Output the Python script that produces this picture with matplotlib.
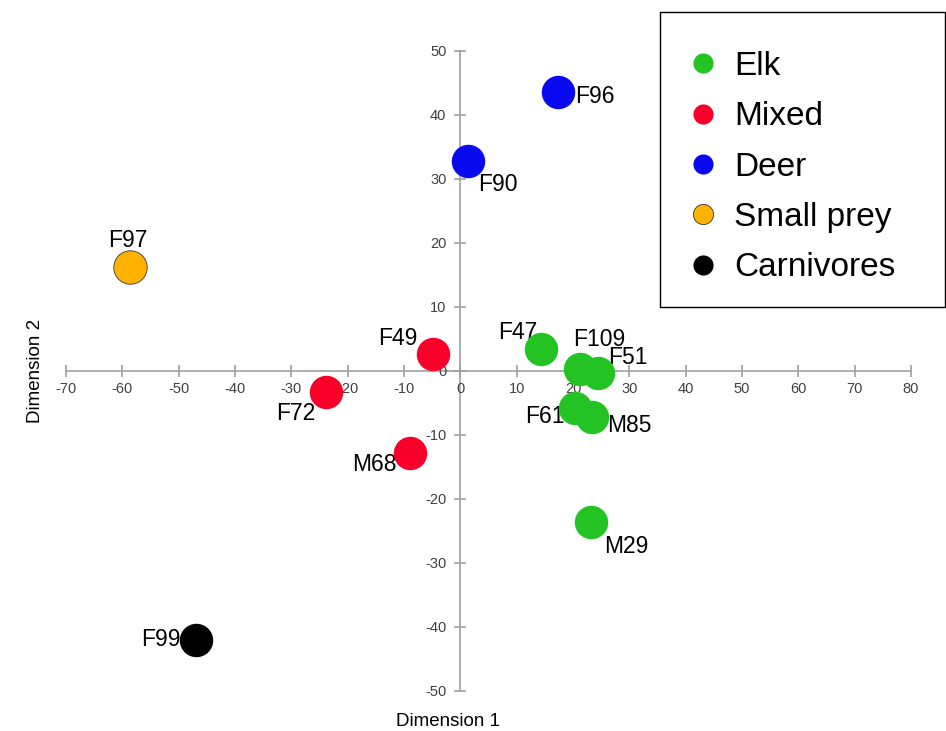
import matplotlib
matplotlib.use("Agg")
import matplotlib.pyplot as plt
from matplotlib.lines import Line2D
from matplotlib.patches import Rectangle

plt.rcParams['font.family'] = ['Liberation Sans', 'DejaVu Sans']
plt.rcParams['axes.unicode_minus'] = False

# Data
labels = ["F96", "F90", "F97", "F49", "F72", "M68", "F47", "F109", "F51", "F61", "M85", "M29", "F99"]
dim1 = [17.3, 1.4, -58.7, -4.8, -23.9, -8.9, 14.3, 21.2, 24.5, 20.4, 23.4, 23.2, -46.9]
dim2 = [43.6, 32.8, 16.3, 2.7, -3.3, -12.8, 3.4, 0.3, -0.3, -5.8, -7.2, -23.6, -42.0]
groups = ["Deer", "Deer", "Small prey", "Mixed", "Mixed", "Mixed", "Elk", "Elk", "Elk", "Elk", "Elk", "Elk", "Carnivores"]
group_order = ["Elk", "Mixed", "Deer", "Small prey", "Carnivores"]
group_colors = {"Elk": "#22C322", "Mixed": "#F8002A", "Deer": "#0A0AF0",
                "Small prey": "#FFB300", "Carnivores": "#000000"}
# label offsets in pixels (dx, dy) and alignment
label_offsets = {"F96": (17, -5, "left"), "F90": (10, -23, "left"), "F97": (-2, 26, "center"),
                 "F49": (-16, 15, "right"), "F72": (-10, -21, "right"), "M68": (-14, -12, "right"),
                 "F47": (-4, 17, "right"), "F109": (-7, 30, "left"), "F51": (10, 15, "left"),
                 "F61": (-11, -8, "right"), "M85": (15, -8, "left"), "M29": (13, -24, "left"),
                 "F99": (-16, 0, "right")}

W, H = 946, 731
fig = plt.figure(figsize=(W / 100, H / 100), dpi=100)
ax = fig.add_axes([66 / W, 1 - 691 / H, (911 - 66) / W, (691 - 51) / H])

for d1, d2, g, lab in zip(dim1, dim2, groups, labels):
    ec = "#333333" if g == "Small prey" else group_colors[g]
    ax.scatter([d1], [d2], s=580, color=group_colors[g], edgecolors=ec,
               linewidths=0.6 if g == "Small prey" else 0, zorder=3)
    dx, dy, ha = label_offsets[lab]
    ax.annotate(lab, (d1, d2), xytext=(dx * 0.72, dy * 0.72), textcoords="offset points",
                ha=ha, va="center", fontsize=16.5, color="black", zorder=2)

ax.set_xlim(-70, 80)
ax.set_ylim(-50, 50)
ax.set_xticks(range(-70, 81, 10))
ax.set_yticks(range(-50, 51, 10))
for side in ["top", "right"]:
    ax.spines[side].set_visible(False)
ax.spines["left"].set_position(("data", 0))
ax.spines["bottom"].set_position(("data", 0))
for side in ["left", "bottom"]:
    ax.spines[side].set_color("#A0A0A0")
    ax.spines[side].set_linewidth(1.2)
    ax.spines[side].set_zorder(1)
ax.tick_params(axis="both", direction="inout", length=8, width=1.2, color="#A0A0A0",
               labelsize=10.5, labelcolor="#404040")
ax.tick_params(axis="x", pad=4)
ax.tick_params(axis="y", pad=6)
ax.patch.set_alpha(0)

fig.text(448 / W, 1 - 722 / H, "Dimension 1", ha="center", va="center", fontsize=13.5)
fig.text(35 / W, 1 - 371 / H, "Dimension 2", ha="center", va="center", fontsize=13.5, rotation=90)

# legend box
fig.patches.append(Rectangle((660 / W, 1 - 307 / H), (945 - 660) / W, (307 - 12) / H,
                             transform=fig.transFigure, fill=True, facecolor="white",
                             edgecolor="black", linewidth=1.0, zorder=5))
handles = [Line2D([], [], marker="o", linestyle="none", markersize=14.5,
                  markerfacecolor=group_colors[g],
                  markeredgecolor="#333333" if g == "Small prey" else group_colors[g],
                  markeredgewidth=0.6 if g == "Small prey" else 0)
           for g in group_order]
leg = fig.legend(handles, group_order, loc="upper left", bbox_to_anchor=(686 / W, 1 - 51 / H),
                 frameon=False, fontsize=24, labelspacing=0.58, handletextpad=0.45,
                 handlelength=1.0, borderaxespad=0, borderpad=0)
leg.set_zorder(6)

fig.savefig("out.png", dpi=100)
